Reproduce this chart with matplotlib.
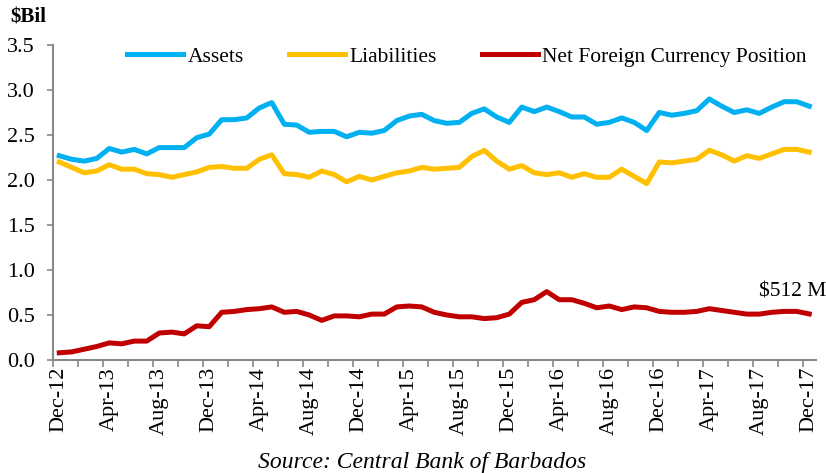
import matplotlib
matplotlib.use('Agg')
import matplotlib.pyplot as plt
import numpy as np

plt.rcParams['font.family'] = ['Liberation Serif', 'DejaVu Serif']

# monthly, Dec-12 .. Dec-17 ($ billions)
months = ['Dec-12', 'Jan-13', 'Feb-13', 'Mar-13', 'Apr-13', 'May-13', 'Jun-13', 'Jul-13', 'Aug-13', 'Sep-13',
          'Oct-13', 'Nov-13', 'Dec-13', 'Jan-14', 'Feb-14', 'Mar-14', 'Apr-14', 'May-14', 'Jun-14', 'Jul-14',
          'Aug-14', 'Sep-14', 'Oct-14', 'Nov-14', 'Dec-14', 'Jan-15', 'Feb-15', 'Mar-15', 'Apr-15', 'May-15',
          'Jun-15', 'Jul-15', 'Aug-15', 'Sep-15', 'Oct-15', 'Nov-15', 'Dec-15', 'Jan-16', 'Feb-16', 'Mar-16',
          'Apr-16', 'May-16', 'Jun-16', 'Jul-16', 'Aug-16', 'Sep-16', 'Oct-16', 'Nov-16', 'Dec-16', 'Jan-17',
          'Feb-17', 'Mar-17', 'Apr-17', 'May-17', 'Jun-17', 'Jul-17', 'Aug-17', 'Sep-17', 'Oct-17', 'Nov-17',
          'Dec-17']

assets = [2.27, 2.23, 2.21, 2.24, 2.35, 2.31, 2.34, 2.29, 2.36, 2.36,
          2.36, 2.47, 2.51, 2.67, 2.67, 2.69, 2.80, 2.86, 2.62, 2.61,
          2.53, 2.54, 2.54, 2.48, 2.53, 2.52, 2.55, 2.66, 2.71, 2.73,
          2.66, 2.63, 2.64, 2.74, 2.79, 2.70, 2.64, 2.81, 2.76, 2.81,
          2.76, 2.70, 2.70, 2.62, 2.64, 2.69, 2.64, 2.55, 2.75, 2.72,
          2.74, 2.77, 2.90, 2.82, 2.75, 2.78, 2.74, 2.81, 2.87, 2.87,
          2.82]

liabilities = [2.20, 2.14, 2.08, 2.10, 2.17, 2.12, 2.12, 2.07, 2.06, 2.03,
               2.06, 2.09, 2.14, 2.15, 2.13, 2.13, 2.23, 2.28, 2.07, 2.06,
               2.03, 2.10, 2.06, 1.98, 2.04, 2.00, 2.04, 2.08, 2.10, 2.14,
               2.12, 2.13, 2.14, 2.26, 2.33, 2.21, 2.12, 2.16, 2.08, 2.06,
               2.08, 2.03, 2.07, 2.03, 2.03, 2.12, 2.04, 1.96, 2.20, 2.19,
               2.21, 2.23, 2.33, 2.28, 2.21, 2.27, 2.24, 2.29, 2.34, 2.34,
               2.31]

net_position = [0.08, 0.09, 0.12, 0.15, 0.19, 0.18, 0.21, 0.21, 0.30, 0.31,
                0.29, 0.38, 0.37, 0.53, 0.54, 0.56, 0.57, 0.59, 0.53, 0.54,
                0.50, 0.44, 0.49, 0.49, 0.48, 0.51, 0.51, 0.59, 0.60, 0.59,
                0.53, 0.50, 0.48, 0.48, 0.46, 0.47, 0.51, 0.64, 0.67, 0.76,
                0.67, 0.67, 0.63, 0.58, 0.60, 0.56, 0.59, 0.58, 0.54, 0.53,
                0.53, 0.54, 0.57, 0.55, 0.53, 0.51, 0.51, 0.53, 0.54, 0.54,
                0.512]

x = np.arange(len(months))

fig = plt.figure(figsize=(8.26, 4.73), dpi=100)
ax = fig.add_axes([53/826, 1-360/473, 762.5/826, 315/473])

ax.plot(x, assets, color='#00B0F0', lw=3.6, label='Assets', solid_joinstyle='round')
ax.plot(x, liabilities, color='#FFC000', lw=3.6, label='Liabilities', solid_joinstyle='round')
ax.plot(x, net_position, color='#C00000', lw=3.6, label='Net Foreign Currency Position',
        solid_joinstyle='round')

ax.set_xlim(-0.5, len(months) - 0.5)
ax.set_ylim(0, 3.5)
yt = np.arange(0, 3.51, 0.5)
ax.set_yticks(yt)
ax.set_yticklabels(['%.1f' % v for v in yt], fontsize=16)

ax.set_xticks(x[::4])
ax.set_xticklabels(months[::4], rotation=90, fontsize=16)
ax.set_xticks(np.arange(-0.5, len(months), 2), minor=True)
ax.tick_params(axis='x', which='major', length=0, pad=5)
ax.tick_params(axis='x', which='minor', length=5, color='#888888', width=1.2)
ax.tick_params(axis='y', length=4, color='#888888', width=1.2, pad=9)

for s in ['top', 'right']:
    ax.spines[s].set_visible(False)
for s in ['left', 'bottom']:
    ax.spines[s].set_color('#888888')
    ax.spines[s].set_linewidth(1.5)

fig.legend(loc='center', bbox_to_anchor=(467/826, 1-57/473), ncol=3, frameon=False,
           fontsize=15.5, handlelength=2.6, columnspacing=2.1, handletextpad=0.2)

fig.text(10/826, 1-18/473, '$Bil', fontsize=15, fontweight='bold', va='center', ha='left')
ax.annotate('$512 M', xy=(x[-1], net_position[-1]), xytext=(-12, 16), textcoords='offset points',
            fontsize=15.5, ha='center', va='center')
fig.text(422/826, 1-462/473, 'Source: Central Bank of Barbados', fontsize=17, style='italic',
         ha='center', va='center')

fig.savefig('out.png', dpi=100)
